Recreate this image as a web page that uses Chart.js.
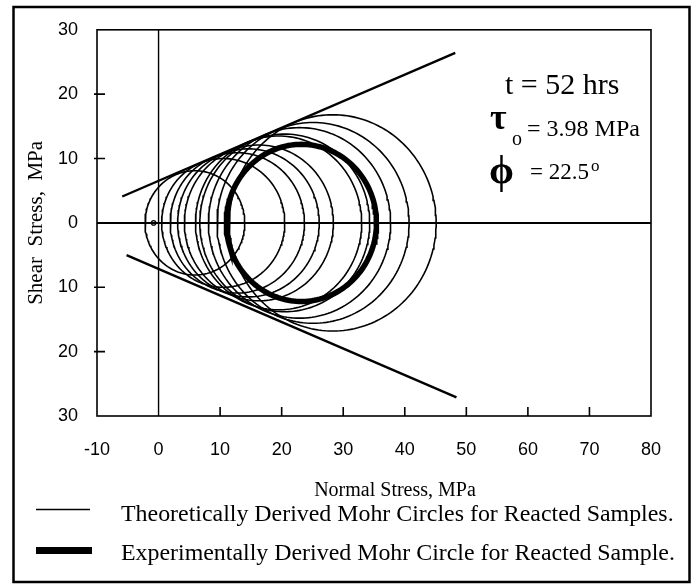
<!DOCTYPE html>
<html><head><meta charset="utf-8">
<script src="https://cdn.jsdelivr.net/npm/chart.js@4.4.1/dist/chart.umd.min.js"></script>
<style>html,body{margin:0;padding:0;background:#fff}#wrap{width:700px;height:587px;position:relative}</style>
</head><body><div id="wrap"><canvas id="c" width="700" height="587"></canvas></div>
<script>
// ---- data ----
const xTickValues = [-10, 0, 10, 20, 30, 40, 50, 60, 70, 80];
const yTickValues = [30, 20, 10, 0, -10, -20, -30];
const theoCenters = [5.9, 10.5, 12.8, 14.6, 16.3, 19.5, 20.5, 22.9, 25.1, 28.3];
const theoRadii   = [8.1, 10.0, 10.9, 11.5, 12.1, 13.5, 13.8, 14.8, 15.6, 16.8];
const expCenter = 23.2;
const expRadius = 12.2;
const upperEnvX = [-5.9, 48.2];
const upperEnvY = [4.1, 26.4];
const lowerEnvX = [-5.2, 48.4];
const lowerEnvY = [-5.0, -27.1];
const originMarker = [{x: -0.8, y: 0}];
const legendLabels = ['Theoretically Derived Mohr Circles for Reacted Samples.',
                      'Experimentally Derived Mohr Circle for Reacted Sample.'];
const xTitle = 'Normal Stress, MPa';
const yTitle = 'Shear  Stress,  MPa';
const annoTime = 't = 52 hrs';
const annoTau = '= 3.98 MPa';
const annoPhi = '= 22.5';

function circlePts(c, r) {
  const pts = [];
  const n = 180;
  for (let i = 0; i <= n; i++) {
    const t = 2 * Math.PI * i / n;
    pts.push({x: c + r * Math.cos(t), y: r * Math.sin(t)});
  }
  return pts;
}
const lineDs = (data, w) => ({data, showLine: true, borderColor: '#000', borderWidth: w,
  pointRadius: 0, fill: false, tension: 0});

const datasets = [];
datasets.push(lineDs([{x: -10, y: 0}, {x: 80, y: 0}], 2));
datasets.push(lineDs([{x: 0, y: -30}, {x: 0, y: 30}], 1.4));
theoCenters.forEach((c, i) => datasets.push(lineDs(circlePts(c, theoRadii[i]), 1.6)));
datasets.push(lineDs(circlePts(expCenter, expRadius), 5.5));
datasets.push(lineDs(upperEnvX.map((x, i) => ({x, y: upperEnvY[i]})), 2.4));
datasets.push(lineDs(lowerEnvX.map((x, i) => ({x, y: lowerEnvY[i]})), 2.4));
datasets.push({data: originMarker, showLine: false, pointRadius: 2.2, pointBorderWidth: 1.2,
  pointBorderColor: '#000', pointBackgroundColor: '#fff'});

const serif = '"Liberation Serif", "Times New Roman", serif';
const sans = '"Liberation Sans", Arial, sans-serif';

const decor = {
  id: 'decor',
  beforeDraw(chart) {
    const ctx = chart.ctx;
    ctx.save();
    ctx.fillStyle = '#fff';
    ctx.fillRect(0, 0, chart.width, chart.height);
    ctx.strokeStyle = '#000';
    ctx.lineWidth = 2.5;
    ctx.strokeRect(13.5, 7, 676, 575);
    ctx.restore();
  },
  afterDatasetsDraw(chart) {
    const ctx = chart.ctx, a = chart.chartArea;
    const xs = chart.scales.x, ys = chart.scales.y;
    ctx.save();
    ctx.strokeStyle = '#000';
    ctx.lineWidth = 1.6;
    ctx.strokeRect(a.left, a.top, a.right - a.left, a.bottom - a.top);
    ctx.beginPath();
    xTickValues.filter(v => v > 0 && v < 80).forEach(v => {
      const p = xs.getPixelForValue(v);
      ctx.moveTo(p, a.bottom); ctx.lineTo(p, a.bottom - 9);
    });
    yTickValues.filter(v => v !== 0 && Math.abs(v) < 30).forEach(v => {
      const p = ys.getPixelForValue(v);
      ctx.moveTo(a.left - 3, p); ctx.lineTo(a.left + 8, p);
    });
    ctx.stroke();
    ctx.restore();
  },
  afterDraw(chart) {
    const ctx = chart.ctx;
    ctx.save();
    ctx.fillStyle = '#000';
    ctx.textBaseline = 'alphabetic';
    ctx.textAlign = 'left';
    // x axis title
    ctx.font = '20px ' + serif;
    ctx.textAlign = 'center';
    ctx.fillText(xTitle, 395, 496);
    ctx.textAlign = 'left';
    // annotations
    ctx.font = '30px ' + serif;
    ctx.fillText(annoTime, 505, 94);
    ctx.font = 'bold 36px ' + serif;
    ctx.fillText('\u03C4', 490, 129);
    ctx.font = '20px ' + serif;
    ctx.fillText('o', 512, 145);
    ctx.font = '24px ' + serif;
    ctx.fillText(annoTau, 527, 136);
    ctx.font = 'bold 40px ' + serif;
    ctx.fillText('\u03D5', 489, 183);
    ctx.font = '23px ' + serif;
    ctx.fillText(annoPhi, 530, 179);
    ctx.font = '17px ' + serif;
    ctx.fillText('o', 591, 171);
    // legend
    ctx.strokeStyle = '#000';
    ctx.lineWidth = 1.6;
    ctx.beginPath(); ctx.moveTo(36, 509.5); ctx.lineTo(90, 509.5); ctx.stroke();
    ctx.lineWidth = 7;
    ctx.beginPath(); ctx.moveTo(36, 550.5); ctx.lineTo(92, 550.5); ctx.stroke();
    ctx.font = '23.9px ' + serif;
    ctx.fillText(legendLabels[0], 121, 521);
    ctx.fillText(legendLabels[1], 121, 560);
    ctx.restore();
  }
};

new Chart(document.getElementById('c'), {
  type: 'scatter',
  data: {datasets},
  options: {
    responsive: false,
    animation: false,
    events: [],
    layout: {padding: {left: 14, right: 49, top: 25, bottom: 81}},
    plugins: {legend: {display: false}, tooltip: {enabled: false}},
    scales: {
      x: {
        type: 'linear', min: -10, max: 80,
        afterBuildTicks: s => { s.ticks = xTickValues.map(v => ({value: v})); },
        afterFit: s => { s.height = 90; },
        grid: {display: false, drawTicks: false},
        border: {display: false},
        ticks: {color: '#000', font: {family: sans, size: 18}, padding: 23, maxRotation: 0}
      },
      y: {
        type: 'linear', min: -30, max: 30,
        afterBuildTicks: s => { s.ticks = yTickValues.map(v => ({value: v})); },
        afterFit: s => { s.width = 83; },
        grid: {display: false, drawTicks: false},
        border: {display: false},
        ticks: {color: '#000', font: {family: sans, size: 18}, padding: 19,
                callback: v => String(Math.abs(v))},
        title: {display: true, text: yTitle, color: '#000',
                font: {family: serif, size: 21}, padding: {top: 10.2, bottom: 0}}
      }
    }
  },
  plugins: [decor]
});
</script></body></html>
